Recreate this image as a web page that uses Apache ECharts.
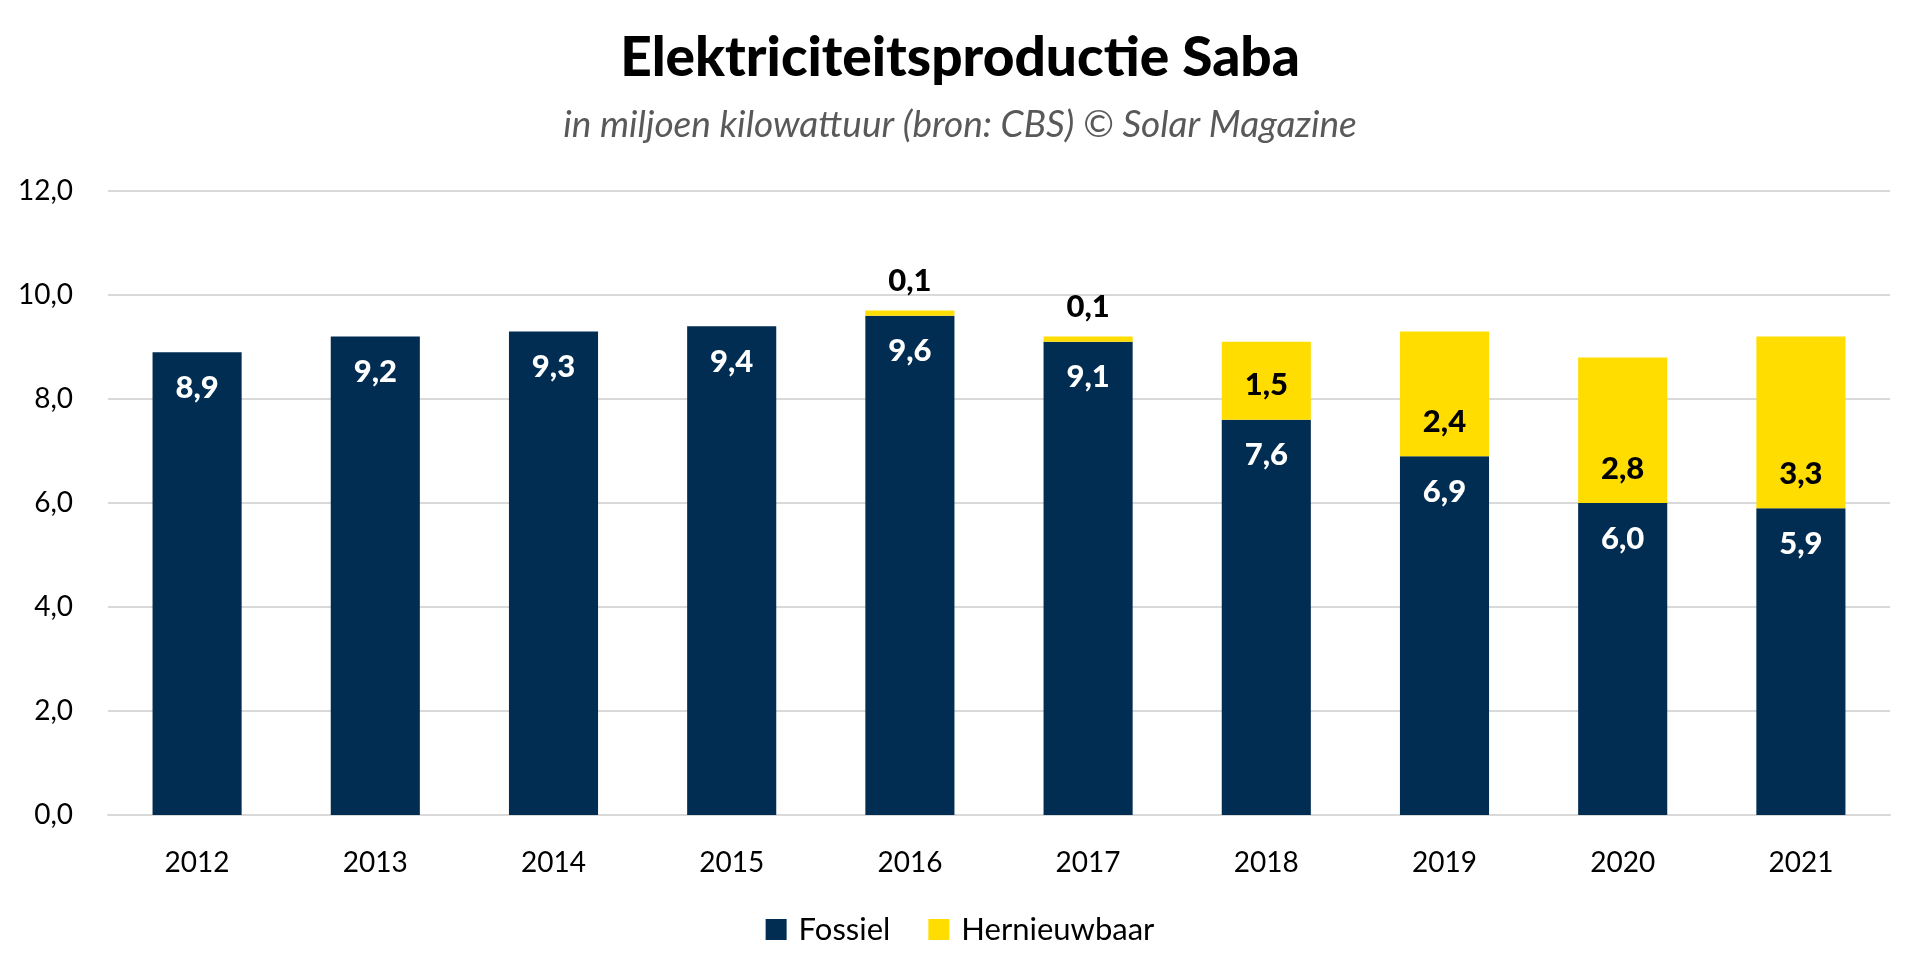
<!DOCTYPE html>
<html>
<head>
<meta charset="utf-8">
<title>Elektriciteitsproductie Saba</title>
<script src="https://cdn.jsdelivr.net/npm/echarts@6/dist/echarts.min.js"></script>
<style>
  html, body { margin: 0; padding: 0; background: #fff; }
  #chart { width: 1920px; height: 980px; }
</style>
</head>
<body>
<div id="chart"></div>
<script>
// jaren en waarden (miljoen kWh)
var jaren = ['2012', '2013', '2014', '2015', '2016', '2017', '2018', '2019', '2020', '2021'];
var fossiel = [8.9, 9.2, 9.3, 9.4, 9.6, 9.1, 7.6, 6.9, 6.0, 5.9];
var hernieuwbaar = [0, 0, 0, 0, 0.1, 0.1, 1.5, 2.4, 2.8, 3.3];

var FONT = 'Lato';
var NAVY = '#022d52';
var GEEL = '#ffdd00';

function nl(v) {
	return Number(v).toFixed(1).replace('.', ',');
}

// kleine waarden boven de staaf, de rest binnenin tegen de onderkant
var hernieuwbaarData = hernieuwbaar.map(function(v) {
	var item = {value: v};
	if (v > 0 && v < 0.5) {
		item.label = {position: 'top', distance: 14};
	}
	return item;
});

var myChart = echarts.init(document.getElementById('chart'));
myChart.setOption({
	backgroundColor: '#fff',
	title: [{
		text: 'Elektriciteitsproductie Saba',
		left: 'center',
		top: 26,
		textStyle: {fontFamily: FONT, fontSize: 55, fontWeight: 900, color: '#000'}
	}, {
		text: 'in miljoen kilowattuur (bron: CBS) © Solar Magazine',
		left: 'center',
		top: 102,
		textStyle: {fontFamily: FONT, fontSize: 37, fontStyle: 'italic', fontWeight: 'normal', color: '#595959'}
	}],
	legend: {
		data: ['Fossiel', 'Hernieuwbaar'],
		left: 'center',
		top: 909,
		itemWidth: 21,
		itemHeight: 21,
		itemGap: 38,
		icon: 'rect',
		textStyle: {fontFamily: FONT, fontSize: 31, color: '#000', padding: [0, 0, 0, 7]}
	},
	grid: {left: 108, right: 30, top: 191, bottom: 165, containLabel: false},
	xAxis: {
		type: 'category',
		data: jaren,
		axisLine: {lineStyle: {color: '#d9d9d9', width: 2}},
		axisTick: {show: false},
		axisLabel: {fontFamily: FONT, fontSize: 28, color: '#000', margin: 34}
	},
	yAxis: {
		type: 'value',
		min: 0,
		max: 12,
		interval: 2,
		axisLine: {show: false},
		axisTick: {show: false},
		splitLine: {lineStyle: {color: '#d9d9d9', width: 2}},
		axisLabel: {fontFamily: FONT, fontSize: 28, color: '#000', margin: 35, formatter: function(v) { return nl(v); }}
	},
	series: [{
		name: 'Fossiel',
		type: 'bar',
		stack: 'totaal',
		barWidth: '50%',
		itemStyle: {color: NAVY},
		label: {
			show: true,
			position: 'insideTop',
			distance: 20,
			fontFamily: FONT, fontSize: 31, fontWeight: 900, color: '#fff',
			formatter: function(p) { return nl(p.value); }
		},
		data: fossiel
	}, {
		name: 'Hernieuwbaar',
		type: 'bar',
		stack: 'totaal',
		barWidth: '50%',
		itemStyle: {color: GEEL},
		label: {
			show: true,
			position: 'insideBottom',
			distance: 19,
			fontFamily: FONT, fontSize: 31, fontWeight: 900, color: '#000',
			formatter: function(p) { return p.value ? nl(p.value) : ''; }
		},
		data: hernieuwbaarData
	}]
});
</script>
</body>
</html>
